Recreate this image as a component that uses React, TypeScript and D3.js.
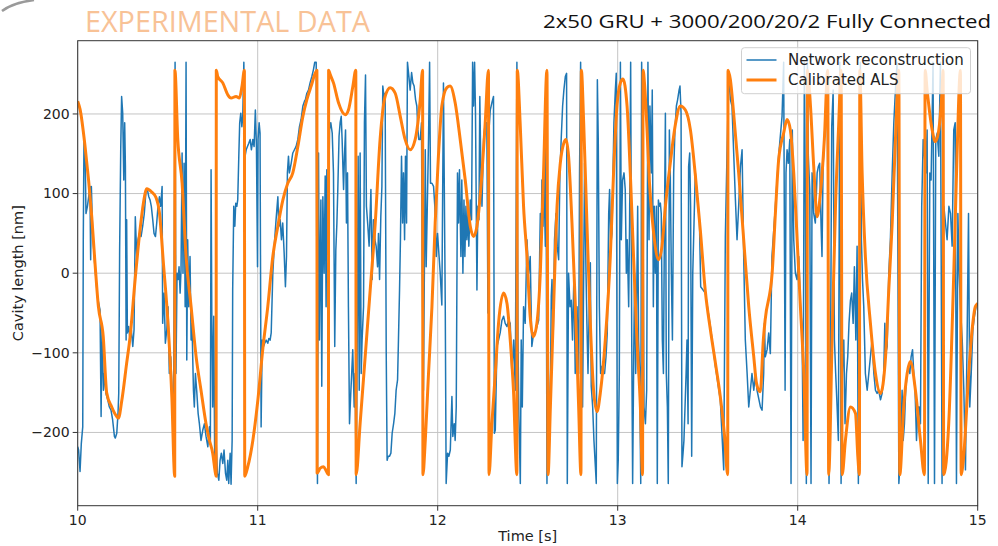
import React from "react";
import * as d3 from "d3";

// axis ticks
const xTicks = [10, 11, 12, 13, 14, 15];
const yTicks = [-200, -100, 0, 100, 200];

// [time s, cavity length nm]
const calibratedALS: [number, number][] = [
  [10.000,216],[10.013,206],[10.041,159],[10.078,71],[10.096,13],[10.115,-42],[10.142,-80],[10.161,-150],[10.189,-168],[10.217,-180],[10.226,-182],[10.245,-160],[10.272,-113],[10.291,-80],[10.319,-8],[10.346,54],[10.365,88],[10.384,106],[10.411,102],[10.435,95],[10.454,76],[10.476,13],[10.504,-71],[10.523,-155],[10.539,-255],[10.540,255],[10.556,168],[10.580,113],[10.602,21],[10.630,-42],[10.658,-105],[10.685,-147],[10.713,-189],[10.732,-210],[10.750,-226],[10.765,-251],[10.769,-255],[10.770,255],[10.778,247],[10.806,239],[10.834,224],[10.852,220],[10.880,222],[10.898,220],[10.913,235],[10.926,255],[10.928,-255],[10.945,-243],[10.973,-210],[11.001,-159],[11.028,-96],[11.056,-42],[11.084,21],[11.112,59],[11.140,92],[11.167,113],[11.195,126],[11.223,159],[11.251,197],[11.273,218],[11.297,235],[11.329,255],[11.330,-251],[11.347,-245],[11.365,-243],[11.380,-248],[11.393,-253],[11.394,255],[11.402,250],[11.421,239],[11.449,214],[11.486,199],[11.504,205],[11.529,235],[11.545,255],[11.547,-253],[11.569,-189],[11.597,-105],[11.625,-21],[11.653,63],[11.680,168],[11.708,222],[11.736,233],[11.764,226],[11.792,197],[11.819,168],[11.847,155],[11.875,168],[11.903,218],[11.916,255],[11.918,-253],[11.931,-210],[11.949,-126],[11.968,-42],[11.986,63],[12.004,147],[12.023,210],[12.051,233],[12.069,235],[12.097,214],[12.125,168],[12.153,117],[12.181,59],[12.199,46],[12.218,59],[12.246,126],[12.264,189],[12.282,255],[12.285,-253],[12.301,-189],[12.320,-126],[12.338,-63],[12.366,-25],[12.385,-38],[12.403,-84],[12.421,-147],[12.440,-253],[12.442,255],[12.458,189],[12.477,84],[12.496,21],[12.514,-55],[12.531,-80],[12.551,-63],[12.570,0],[12.588,126],[12.607,255],[12.613,-253],[12.626,-168],[12.644,-42],[12.663,84],[12.681,138],[12.700,163],[12.713,168],[12.727,147],[12.746,63],[12.765,-42],[12.783,-168],[12.796,-253],[12.798,255],[12.811,189],[12.829,63],[12.848,-63],[12.866,-147],[12.885,-174],[12.903,-151],[12.931,-84],[12.959,21],[12.977,126],[12.996,210],[13.015,239],[13.029,244],[13.052,210],[13.070,126],[13.088,21],[13.107,-84],[13.126,-168],[13.138,-253],[13.141,255],[13.150,235],[13.163,180],[13.176,115],[13.200,50],[13.227,17],[13.246,34],[13.265,84],[13.292,138],[13.320,186],[13.348,210],[13.376,205],[13.404,180],[13.431,124],[13.459,54],[13.487,-23],[13.515,-71],[13.543,-113],[13.570,-155],[13.594,-205],[13.611,-253],[13.613,255],[13.626,243],[13.644,201],[13.672,126],[13.700,42],[13.728,-42],[13.756,-105],[13.771,-138],[13.792,-149],[13.809,-84],[13.819,-59],[13.858,0],[13.876,75],[13.894,142],[13.922,176],[13.941,193],[13.959,180],[13.978,126],[13.997,42],[14.015,-42],[14.034,-126],[14.052,-253],[14.054,255],[14.071,210],[14.089,134],[14.108,71],[14.126,100],[14.148,168],[14.167,255],[14.172,-253],[14.191,-84],[14.210,84],[14.228,188],[14.241,255],[14.247,-253],[14.265,-210],[14.293,-168],[14.321,-176],[14.334,-230],[14.343,-253],[14.345,255],[14.358,126],[14.376,21],[14.404,-63],[14.432,-126],[14.460,-151],[14.488,-105],[14.506,-21],[14.525,63],[14.543,168],[14.562,255],[14.567,-253],[14.589,-168],[14.608,-126],[14.626,-111],[14.654,-147],[14.682,-210],[14.704,-253],[14.708,255],[14.719,230],[14.747,180],[14.765,165],[14.784,180],[14.802,230],[14.808,255],[14.811,-253],[14.839,-189],[14.867,0],[14.885,147],[14.904,255],[14.908,-253],[14.922,-230],[14.950,-126],[14.969,-71],[14.987,-42],[15.000,-38],
];

const networkReconstruction: [number, number][] = [
  [10.000,-218],[10.005,-222],[10.013,-249],[10.020,-214],[10.028,-193],[10.031,42],[10.035,172],[10.041,155],[10.046,75],[10.054,84],[10.061,96],[10.068,109],[10.072,17],[10.076,109],[10.083,50],[10.095,10],[10.110,-30],[10.124,-46],[10.130,-180],[10.135,-71],[10.143,-147],[10.148,-126],[10.157,-151],[10.167,-159],[10.176,-168],[10.185,-172],[10.194,-184],[10.204,-205],[10.209,-207],[10.217,-201],[10.224,-176],[10.228,-151],[10.233,29],[10.239,155],[10.244,222],[10.250,201],[10.256,117],[10.261,189],[10.265,134],[10.269,-84],[10.272,67],[10.276,-75],[10.283,-67],[10.291,-84],[10.298,-71],[10.306,-92],[10.313,-71],[10.320,71],[10.328,21],[10.335,42],[10.343,50],[10.352,46],[10.361,59],[10.370,75],[10.380,105],[10.387,105],[10.395,96],[10.402,92],[10.409,84],[10.417,67],[10.424,50],[10.432,46],[10.439,63],[10.446,84],[10.454,96],[10.461,84],[10.469,109],[10.472,-63],[10.480,-25],[10.487,-88],[10.495,-71],[10.502,-42],[10.509,-126],[10.517,-105],[10.524,-147],[10.532,-205],[10.541,265],[10.546,-126],[10.552,0],[10.558,-8],[10.563,8],[10.569,-25],[10.574,4],[10.580,151],[10.585,0],[10.591,138],[10.597,-42],[10.602,265],[10.606,-109],[10.611,42],[10.617,-42],[10.624,21],[10.630,-84],[10.635,-63],[10.643,-147],[10.648,-168],[10.654,-126],[10.661,-147],[10.669,-176],[10.676,-189],[10.685,-210],[10.695,-197],[10.704,-189],[10.713,-205],[10.723,-218],[10.732,-193],[10.737,-210],[10.741,130],[10.745,-50],[10.750,-168],[10.756,-54],[10.761,-230],[10.769,-210],[10.776,-251],[10.784,-260],[10.791,-235],[10.798,-226],[10.806,-239],[10.813,-222],[10.821,-251],[10.828,-260],[10.834,-235],[10.839,-264],[10.847,-226],[10.852,-265],[10.858,-210],[10.861,-21],[10.867,84],[10.873,59],[10.878,88],[10.884,84],[10.889,92],[10.895,147],[10.900,189],[10.906,201],[10.912,184],[10.917,197],[10.923,265],[10.930,147],[10.936,155],[10.943,159],[10.950,163],[10.958,168],[10.965,155],[10.973,168],[10.980,159],[10.987,205],[10.993,159],[10.999,8],[11.002,168],[11.008,189],[11.013,176],[11.019,-193],[11.025,-84],[11.032,-92],[11.039,-88],[11.047,-84],[11.056,-88],[11.062,-82],[11.069,-84],[11.075,-75],[11.084,0],[11.093,38],[11.102,67],[11.112,96],[11.117,59],[11.125,67],[11.132,42],[11.139,63],[11.147,25],[11.154,-17],[11.160,21],[11.165,126],[11.171,147],[11.176,126],[11.186,138],[11.195,151],[11.204,155],[11.213,159],[11.223,168],[11.232,184],[11.241,193],[11.251,210],[11.260,216],[11.265,218],
  [11.273,226],[11.282,230],[11.291,239],[11.301,247],[11.310,256],[11.317,265],[11.325,265],[11.332,-264],[11.338,151],[11.343,-84],[11.351,92],[11.356,-142],[11.362,96],[11.369,0],[11.375,122],[11.380,-42],[11.384,130],[11.391,34],[11.399,180],[11.406,189],[11.414,176],[11.421,126],[11.428,-92],[11.434,29],[11.440,63],[11.445,105],[11.452,172],[11.458,189],[11.464,197],[11.469,168],[11.477,105],[11.482,147],[11.488,180],[11.493,63],[11.499,126],[11.504,-42],[11.510,-189],[11.517,-151],[11.523,-122],[11.528,-96],[11.536,-168],[11.541,-126],[11.547,-264],[11.553,-84],[11.558,147],[11.564,-147],[11.569,151],[11.575,-126],[11.580,-84],[11.588,-42],[11.593,189],[11.599,249],[11.604,84],[11.612,59],[11.619,34],[11.629,105],[11.636,-8],[11.643,67],[11.651,42],[11.658,34],[11.666,8],[11.671,50],[11.677,-8],[11.684,71],[11.690,109],[11.695,235],[11.703,218],[11.708,226],[11.714,-100],[11.719,-235],[11.725,-230],[11.732,-230],[11.740,-226],[11.747,-201],[11.755,-189],[11.762,-176],[11.769,-147],[11.777,-134],[11.782,-84],[11.788,-21],[11.793,42],[11.799,147],[11.805,63],[11.810,126],[11.816,42],[11.821,147],[11.827,63],[11.832,265],[11.840,247],[11.847,230],[11.855,252],[11.862,239],[11.869,235],[11.877,218],[11.884,210],[11.890,180],[11.895,168],[11.903,168],[11.910,189],[11.914,0],[11.921,-147],[11.931,155],[11.936,8],[11.944,105],[11.949,168],[11.955,265],[11.960,113],[11.968,113],[11.977,109],[11.984,84],[11.992,21],[11.999,50],[12.014,0],[12.023,-40],[12.032,239],[12.042,-42],[12.047,-264],[12.055,-226],[12.062,-230],[12.070,-222],[12.079,-155],[12.084,-205],[12.092,-189],[12.097,-210],[12.103,-168],[12.110,126],[12.116,63],[12.121,130],[12.129,21],[12.134,117],[12.140,0],[12.146,92],[12.151,21],[12.157,84],[12.162,42],[12.168,75],[12.173,34],[12.181,92],[12.188,67],[12.194,265],[12.199,210],[12.205,265],[12.210,201],[12.218,-21],[12.223,84],[12.229,67],[12.234,222],[12.240,126],[12.246,84],[12.255,168],[12.264,189],[12.273,189],[12.279,-50],[12.285,180],[12.292,205],[12.301,214],[12.310,222],[12.315,-201],[12.320,-197],[12.329,-92],[12.338,-84],[12.347,-75],[12.357,-59],[12.366,-54],[12.375,-63],[12.385,-67],[12.394,-59],[12.403,-63],[12.412,-126],[12.422,-84],[12.431,-147],[12.440,265],[12.446,-84],[12.451,-180],[12.459,-264],[12.464,-84],[12.470,-168],[12.477,-42],[12.486,-63],[12.496,42],[12.505,0],[12.514,21],
  [12.523,-92],[12.533,-75],[12.542,-75],[12.551,-67],[12.561,-59],[12.570,75],[12.575,42],[12.579,117],[12.585,59],[12.590,126],[12.598,34],[12.601,243],[12.607,-264],[12.612,-84],[12.620,-210],[12.625,-168],[12.631,-29],[12.635,-8],[12.642,-75],[12.649,42],[12.657,75],[12.664,34],[12.672,17],[12.679,126],[12.686,168],[12.694,210],[12.701,230],[12.709,247],[12.716,251],[12.720,-264],[12.727,0],[12.735,-42],[12.742,-34],[12.749,-84],[12.757,0],[12.764,-126],[12.774,-42],[12.783,-126],[12.788,126],[12.794,265],[12.800,42],[12.805,-168],[12.811,0],[12.816,138],[12.824,0],[12.829,-63],[12.835,-126],[12.842,-42],[12.848,13],[12.853,-142],[12.861,-168],[12.868,-210],[12.876,-243],[12.881,-264],[12.887,243],[12.892,168],[12.898,-42],[12.905,-126],[12.913,-117],[12.920,-126],[12.927,-126],[12.935,-105],[12.942,-75],[12.950,75],[12.955,105],[12.961,34],[12.968,50],[12.974,126],[12.979,189],[12.987,230],[12.992,251],[12.998,-264],[13.003,-235],[13.009,-126],[13.015,265],[13.020,42],[13.027,117],[13.035,126],[13.042,105],[13.048,0],[13.053,42],[13.061,-42],[13.066,63],[13.072,265],[13.078,-84],[13.083,-264],[13.089,-105],[13.094,0],[13.100,-126],[13.105,-42],[13.111,84],[13.116,-84],[13.122,-126],[13.128,-264],[13.133,265],[13.139,168],[13.146,-168],[13.154,-189],[13.161,-147],[13.168,265],[13.174,42],[13.179,210],[13.187,126],[13.192,230],[13.198,-42],[13.203,84],[13.209,0],[13.215,84],[13.220,-264],[13.226,92],[13.231,84],[13.237,88],[13.242,75],[13.248,-84],[13.254,-126],[13.259,42],[13.265,201],[13.270,-126],[13.276,-168],[13.281,-264],[13.287,180],[13.292,126],[13.298,0],[13.304,-84],[13.311,126],[13.318,180],[13.326,210],[13.333,218],[13.341,230],[13.346,235],[13.352,201],[13.357,-243],[13.363,-226],[13.368,-210],[13.374,-168],[13.380,-126],[13.385,-84],[13.391,-189],[13.394,134],[13.400,151],[13.405,84],[13.411,-230],[13.417,0],[13.424,63],[13.431,126],[13.439,105],[13.446,84],[13.454,67],[13.461,-17],[13.487,-25],[13.515,-67],[13.543,-117],[13.570,-159],[13.589,-247],[13.598,46],[13.607,147],[13.617,251],[13.626,218],[13.635,210],[13.645,147],[13.654,92],[13.663,42],[13.672,84],[13.682,134],[13.691,155],[13.700,21],[13.709,-84],[13.719,-126],[13.728,-168],[13.737,-147],[13.746,-126],[13.756,-147],[13.765,-126],
  [13.774,-147],[13.793,-168],[13.802,-172],[13.811,-126],[13.815,-63],[13.820,-105],[13.830,-96],[13.839,-75],[13.848,-101],[13.857,21],[13.876,84],[13.894,147],[13.913,197],[13.922,265],[13.930,-147],[13.935,126],[13.941,155],[13.948,138],[13.956,168],[13.963,-264],[13.970,180],[13.978,42],[13.987,0],[13.996,-8],[14.006,21],[14.015,-42],[14.024,-67],[14.030,-210],[14.037,265],[14.043,84],[14.048,-264],[14.054,265],[14.059,147],[14.067,105],[14.074,-264],[14.080,126],[14.089,75],[14.098,63],[14.108,126],[14.115,134],[14.122,138],[14.130,59],[14.135,21],[14.141,134],[14.148,168],[14.156,210],[14.163,243],[14.171,0],[14.174,-264],[14.182,-126],[14.189,184],[14.197,230],[14.204,-84],[14.211,-126],[14.219,-168],[14.226,-210],[14.234,265],[14.241,-264],[14.248,-126],[14.256,-84],[14.263,-189],[14.271,-126],[14.278,-105],[14.285,-63],[14.293,-34],[14.300,-25],[14.308,-63],[14.315,8],[14.323,-84],[14.330,34],[14.337,-264],[14.343,-42],[14.348,265],[14.354,42],[14.360,-8],[14.367,-42],[14.376,-126],[14.386,-147],[14.395,-126],[14.404,-105],[14.413,-84],[14.423,-126],[14.432,-147],[14.441,-151],[14.450,-147],[14.460,-159],[14.469,-151],[14.478,-126],[14.484,-63],[14.489,-101],[14.497,-92],[14.506,0],[14.515,42],[14.525,126],[14.534,189],[14.543,230],[14.552,265],[14.562,-264],[14.571,-230],[14.580,-147],[14.586,-210],[14.593,-189],[14.600,-147],[14.608,-126],[14.615,-117],[14.623,-126],[14.630,-105],[14.638,-96],[14.645,-126],[14.652,-147],[14.660,-210],[14.667,-168],[14.675,-168],[14.682,-189],[14.689,84],[14.697,168],[14.704,147],[14.712,126],[14.719,180],[14.725,-264],[14.734,126],[14.741,117],[14.752,265],[14.760,-264],[14.767,168],[14.775,176],[14.784,147],[14.793,265],[14.802,-264],[14.812,84],[14.821,63],[14.830,42],[14.840,84],[14.849,75],[14.858,34],[14.867,180],[14.875,189],[14.882,-264],[14.890,75],[14.897,0],[14.904,-42],[14.914,-84],[14.923,-147],[14.932,-247],[14.941,-84],[14.949,75],[14.956,-168],[14.964,-126],[14.973,-71],[14.982,-54],[14.991,-42],[15.000,-38],
];

const legendItems = [
  { label: "Network reconstruction", color: "#1f77b4", width: 1.5 },
  { label: "Calibrated ALS", color: "#ff7f0e", width: 3 },
];

const fmt = (v: number) => (v < 0 ? "\u2212" + Math.abs(v) : String(v));

export default function App() {
  const width = 998;
  const height = 546;
  const margin = { top: 40.7, right: 20.3, bottom: 40.3, left: 77.7 };

  const x = d3.scaleLinear().domain([10, 15]).range([margin.left, width - margin.right]);
  const y = d3.scaleLinear().domain([-292, 292]).range([height - margin.bottom, margin.top]);

  const rawLine = d3
    .line<[number, number]>()
    .x((d) => x(d[0]))
    .y((d) => y(d[1]));

  // the ALS trace is smooth in the original
  const smoothLine = d3
    .line<[number, number]>()
    .x((d) => x(d[0]))
    .y((d) => y(d[1]))
    .curve(d3.curveMonotoneX);

  const font = "DejaVu Sans, sans-serif";
  const x0 = margin.left;
  const x1 = width - margin.right;
  const y0 = margin.top;
  const y1 = height - margin.bottom;

  return (
    <svg
      width={width}
      height={height}
      style={{ position: "absolute", left: 0, top: 0, display: "block", background: "#fff" }}
    >
      <defs>
        <clipPath id="plot">
          <rect x={x0} y={y0} width={x1 - x0} height={y1 - y0} />
        </clipPath>
      </defs>

      {/* slide decoration top-left */}
      <path d="M 2 11 Q 12 3 34 0" fill="none" stroke="#9a9a9a" strokeWidth={2.5} />

      <text
        x={85}
        y={32}
        fontFamily="Open Sans, sans-serif"
        fontWeight={400}
        fontSize={30}
        fill="#f8c296"
        textLength={285}
        lengthAdjust="spacingAndGlyphs"
      >
        EXPERIMENTAL DATA
      </text>
      <text
        x={543}
        y={28}
        fontFamily="Open Sans, sans-serif"
        fontSize={18}
        fill="#111"
        textLength={448}
        lengthAdjust="spacingAndGlyphs"
      >
        2x50 GRU + 3000/200/20/2 Fully Connected
      </text>

      {/* grid */}
      <g stroke="#c4c4c4" strokeWidth={1}>
        {xTicks.map((t) => (
          <line key={"gx" + t} x1={x(t)} x2={x(t)} y1={y0} y2={y1} />
        ))}
        {yTicks.map((t) => (
          <line key={"gy" + t} x1={x0} x2={x1} y1={y(t)} y2={y(t)} />
        ))}
      </g>

      {/* series */}
      <g clipPath="url(#plot)" fill="none" strokeLinejoin="round">
        <path d={rawLine(networkReconstruction) || ""} stroke="#1f77b4" strokeWidth={1.5} />
        <path d={smoothLine(calibratedALS) || ""} stroke="#ff7f0e" strokeWidth={3} />
      </g>

      {/* frame */}
      <rect x={x0} y={y0} width={x1 - x0} height={y1 - y0} fill="none" stroke="#333" strokeWidth={1} />

      {/* ticks */}
      <g stroke="#333" strokeWidth={1}>
        {xTicks.map((t) => (
          <line key={"tx" + t} x1={x(t)} x2={x(t)} y1={y1} y2={y1 + 5} />
        ))}
        {yTicks.map((t) => (
          <line key={"ty" + t} x1={x0 - 5} x2={x0} y1={y(t)} y2={y(t)} />
        ))}
      </g>
      <g fontFamily={font} fontSize={14} fill="#222">
        {xTicks.map((t) => (
          <text key={"lx" + t} x={x(t)} y={y1 + 19} textAnchor="middle">
            {t}
          </text>
        ))}
        {yTicks.map((t) => (
          <text key={"ly" + t} x={x0 - 8} y={y(t)} dy="0.35em" textAnchor="end">
            {fmt(t)}
          </text>
        ))}
      </g>

      <text x={(x0 + x1) / 2} y={541} textAnchor="middle" fontFamily={font} fontSize={14.5} fill="#222">
        Time [s]
      </text>
      <text
        transform={`translate(23, ${(y0 + y1) / 2}) rotate(-90)`}
        textAnchor="middle"
        fontFamily={font}
        fontSize={14.5}
        fill="#222"
      >
        Cavity length [nm]
      </text>

      {/* legend */}
      <g>
        <rect x={741.5} y={47.7} width={229} height={46} rx={3} fill="#fff" fillOpacity={0.8} stroke="#d0d0d0" />
        {legendItems.map((it, i) => (
          <g key={it.label}>
            <line
              x1={746.5}
              x2={776.5}
              y1={60 + i * 20}
              y2={60 + i * 20}
              stroke={it.color}
              strokeWidth={it.width}
            />
            <text x={788} y={60 + i * 20} dy="0.35em" fontFamily={font} fontSize={15} fill="#222">
              {it.label}
            </text>
          </g>
        ))}
      </g>
    </svg>
  );
}
